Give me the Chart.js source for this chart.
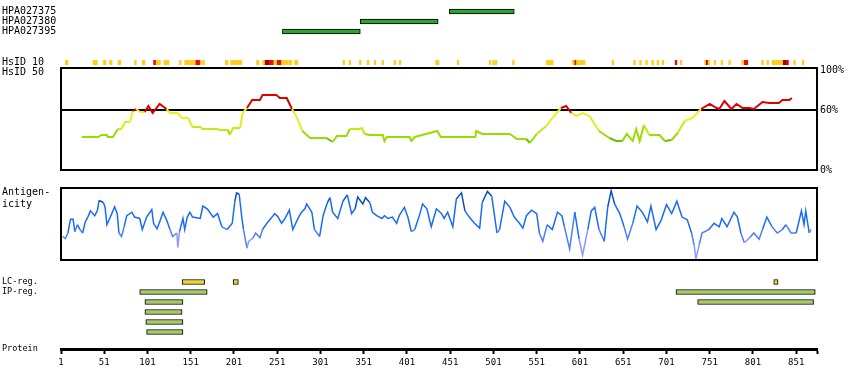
<!DOCTYPE html>
<html>
<head>
<meta charset="utf-8">
<script src="https://cdn.jsdelivr.net/npm/chart.js@4.4.1/dist/chart.umd.min.js"></script>
<style>
  html, body { margin: 0; padding: 0; background: #fff; }
  #wrap { position: relative; width: 850px; height: 390px; }
  #wrap canvas { position: absolute; left: 0; top: 0; }
</style>
</head>
<body>
<div id="wrap">
  <canvas id="hpa" width="850" height="390"></canvas>
  <canvas id="hsid10" width="850" height="390"></canvas>
  <canvas id="hsid50" width="850" height="390"></canvas>
  <canvas id="antigen" width="850" height="390"></canvas>
  <canvas id="regions" width="850" height="390"></canvas>
  <canvas id="axis" width="850" height="390"></canvas>
</div>
<script>
const proteinLength = 875;
const axisTicks = [1, 51, 101, 151, 201, 251, 301, 351, 401, 451, 501, 551, 601, 651, 701, 751, 801, 851];

// antibodies (residue ranges)
const hpaNames = ['HPA027375', 'HPA027380', 'HPA027395'];
const hpaRanges = [[450, 525], [347, 437], [257, 347]];

// HsID 10 blocks: [start, end, level]  level 1 = yellow, 2 = red, 3 = dark red
const hsid10Blocks = [
  [6, 9, 1], [38, 43, 1], [50, 53, 1], [57, 60, 1], [67, 70, 1], [86, 88, 1], [95, 98, 1],
  [108, 111, 2], [111, 116, 1], [120, 126, 1], [138, 140, 1], [144, 157, 1], [157, 162, 2],
  [162, 164, 1], [165, 167, 1], [191, 194, 1], [197, 210, 1], [227, 230, 1], [234, 237, 1],
  [237, 242, 3], [242, 247, 2], [247, 251, 1], [251, 256, 2], [256, 264, 1], [265, 268, 1],
  [271, 275, 1], [327, 329, 1], [334, 336, 1], [346, 348, 1], [355, 357, 1], [363, 365, 1],
  [372, 374, 1], [386, 388, 1], [392, 394, 1], [434, 438, 1], [459, 461, 1], [496, 498, 1],
  [500, 502, 1], [503, 505, 1], [523, 525, 1], [562, 570, 1], [592, 595, 1], [595, 597, 2],
  [597, 607, 1], [638, 640, 1], [663, 665, 1], [670, 672, 1], [677, 679, 1], [684, 686, 1],
  [690, 692, 1], [696, 698, 1], [711, 713, 2], [717, 719, 1], [745, 747, 1], [747, 749, 3],
  [749, 751, 1], [756, 758, 1], [764, 766, 1], [773, 775, 1], [788, 791, 1], [791, 795, 2],
  [811, 813, 1], [817, 819, 1], [823, 836, 1], [836, 840, 3], [840, 842, 2], [848, 850, 1],
  [858, 860, 1]
];

// HsID 50 (% identity)
const hsidPos = [25,44,48,54,55,61,67,71,75,81,84,88,92,98,102,107,115,123,127,136,141,148,153,162,165,181,185,194,196,200,208,211,216,222,231,234,250,254,262,268,274,280,289,308,315,320,331,335,346,349,352,358,373,375,378,404,406,410,436,440,480,481,488,520,528,539,543,551,562,569,579,585,591,597,604,612,623,635,643,650,655,662,666,670,675,681,693,699,707,714,722,731,741,751,759,762,768,776,782,789,797,802,812,820,831,835,843,846];
const hsidVal = [33,33,35,35,33,33,41,41,48,48,59,61,58,58,64,57,66,61,57,57,52,52,43,43,41,41,40,40,35,42,42,57,62,70,70,75,75,72,72,61,52,39,32,32,28,34,34,41,41,42,36,35,35,29,33,33,29,33,39,33,33,39,36,36,31,31,27,36,44,52,62,64,57,54,57,54,39,32,29,29,36,29,41,29,45,35,35,29,30,37,49,52,61,66,62,61,69,61,66,62,62,61,68,67,67,70,70,72];

// antigenicity
const antPos = [3,6,9,12,15,17,20,23,26,29,32,35,40,43,45,50,52,54,58,63,66,68,71,74,77,83,86,92,95,100,106,108,112,115,119,123,127,130,135,136,138,142,144,147,150,153,162,165,170,177,182,187,193,199,202,204,207,210,212,216,218,223,226,231,234,239,245,248,252,256,260,265,269,275,279,283,285,291,294,300,304,309,312,315,321,327,332,337,341,344,350,353,358,361,366,372,375,379,384,389,392,398,402,406,410,416,419,424,429,435,441,444,448,454,458,464,468,473,479,485,488,494,499,505,508,514,520,525,531,535,539,545,551,554,558,563,569,575,580,583,589,595,600,604,610,614,618,623,629,633,637,641,647,652,656,662,667,673,679,683,689,695,701,707,713,719,725,730,733,735,739,742,750,756,762,765,771,779,783,787,791,797,802,808,812,817,823,829,835,839,845,851,857,860,862,866,868];
const antVal = [32,29,37,57,57,39,49,42,37,53,60,69,62,69,84,81,74,49,60,75,65,37,32,46,62,67,60,58,42,60,71,51,43,53,67,56,42,32,37,16,39,58,42,60,67,60,58,76,72,60,65,46,42,51,83,95,93,60,42,15,25,30,37,30,42,51,60,65,60,51,58,70,42,58,67,72,79,67,42,32,62,81,88,67,58,83,92,65,72,89,79,88,81,67,62,58,62,58,60,51,62,74,60,39,42,65,79,72,46,72,65,58,67,46,86,95,69,60,51,44,81,97,90,37,42,83,74,60,51,44,62,70,65,37,25,49,42,67,62,46,14,67,28,5,42,69,74,42,25,74,98,79,65,46,28,51,76,67,53,76,42,56,78,65,83,60,56,37,19,0,21,37,42,51,46,58,46,67,60,37,23,30,37,28,42,60,46,37,42,49,37,37,69,49,69,37,42];

// low complexity / intrinsically disordered regions
const regionRows = ['LC-reg.', 'IP-reg.', '', '', '', ''];
const lcRegions = [[141, 167], [200, 206], [825, 830]];
const ipRegions = [
  [[92, 170], [712, 873]],
  [[98, 142], [737, 871]],
  [[98, 141]],
  [[99, 142]],
  [[100, 142]]
];

Chart.defaults.font.family = 'DejaVu Sans Mono';
Chart.defaults.font.size = 10;
Chart.defaults.color = '#000';
Chart.defaults.animation = false;

const levelColors = { 1: '#FFCC22', 2: '#E01010', 3: '#A80000' };

function idColor(v) {
  if (v >= 60) return '#DD0000';
  if (v >= 50) return '#EEEE22';
  if (v >= 44) return '#DDEE1A';
  if (v >= 38) return '#C4EA10';
  if (v >= 31) return '#99DD00';
  return '#6CBF00';
}

function antColor(v) {
  if (v >= 80) return '#0A4FC0';
  if (v >= 45) return '#1A6CF0';
  if (v >= 28) return '#4F7FF5';
  return '#8E96FF';
}

const framePlugin = {
  id: 'frame',
  afterDraw(chart) {
    const { ctx, chartArea: a } = chart;
    ctx.save();
    ctx.strokeStyle = '#000';
    ctx.lineWidth = 2;
    ctx.strokeRect(a.left, a.top, a.right - a.left, a.bottom - a.top);
    ctx.restore();
  }
};

const xHidden = () => ({ type: 'linear', min: 1, max: proteinLength, display: false });

// fixed width for side axes, and no extra room for labels at the ends
const fitSide = w => s => { s.width = w; s.paddingTop = 0; s.paddingBottom = 0; };

// one text label on the left, vertically at "value"
function leftLabel(value, text, min, max, size) {
  return {
    type: 'linear', position: 'left', min, max, offset: false,
    afterBuildTicks: s => { s.ticks = [{ value }]; },
    afterFit: fitSide(59),
    grid: { display: false },
    border: { display: false },
    ticks: { crossAlign: 'far', padding: 0, autoSkip: false, font: { size: size || 10 }, callback: () => text }
  };
}

function base(top, bottom, right) {
  return {
    responsive: false,
    maintainAspectRatio: false,
    animation: false,
    layout: { padding: { left: 2, right: right === undefined ? 33 : right, top: top, bottom: 390 - bottom } },
    plugins: { legend: { display: false }, tooltip: { enabled: false } }
  };
}

// antibodies
new Chart(document.getElementById('hpa'), {
  type: 'bar',
  data: {
    labels: hpaNames,
    datasets: [{
      data: hpaRanges,
      backgroundColor: '#33A033',
      borderColor: '#000',
      borderWidth: 1,
      borderSkipped: false,
      barThickness: 5
    }]
  },
  options: Object.assign(base(6.5, 36.5), {
    indexAxis: 'y',
    scales: {
      x: xHidden(),
      y: {
        type: 'category', position: 'left',
        afterFit: fitSide(59),
        grid: { display: false }, border: { display: false },
        ticks: { crossAlign: 'far', padding: 0, autoSkip: false }
      }
    }
  })
});

// HsID 10
new Chart(document.getElementById('hsid10'), {
  type: 'bar',
  data: {
    datasets: [{
      data: hsid10Blocks.map(b => ({ x: [b[0], b[1]], y: 0 })),
      backgroundColor: hsid10Blocks.map(b => levelColors[b[2]]),
      borderWidth: 0,
      barThickness: 5
    }]
  },
  options: Object.assign(base(60, 65), {
    indexAxis: 'y',
    scales: { x: xHidden(), y: leftLabel(0, 'HsID 10', -0.5, 0.5) }
  })
});

// HsID 50
new Chart(document.getElementById('hsid50'), {
  type: 'line',
  data: {
    datasets: [{
      data: hsidPos.map((x, i) => ({ x, y: hsidVal[i] })),
      borderWidth: 2,
      pointRadius: 0,
      segment: { borderColor: c => idColor((c.p0.parsed.y + c.p1.parsed.y) / 2) }
    }]
  },
  plugins: [framePlugin],
  options: Object.assign(base(68, 170, 0), {
    scales: {
      x: xHidden(),
      yl: leftLabel(98, 'HsID 50', 0, 102),
      y: {
        type: 'linear', position: 'right', min: 0, max: 102,
        afterBuildTicks: s => { s.ticks = [0, 60, 100].map(v => ({ value: v })); },
        afterFit: fitSide(33),
        grid: { color: c => c.tick && c.tick.value === 60 ? '#000' : 'rgba(0,0,0,0)', lineWidth: 2, drawTicks: false },
        border: { display: false },
        ticks: { padding: 3, autoSkip: false, callback: v => v + '%' }
      }
    }
  })
});

// antigenicity
new Chart(document.getElementById('antigen'), {
  type: 'line',
  data: {
    datasets: [{
      data: antPos.map((x, i) => ({ x, y: antVal[i] })),
      borderWidth: 1.5,
      pointRadius: 0,
      segment: { borderColor: c => antColor((c.p0.parsed.y + c.p1.parsed.y) / 2) }
    }]
  },
  plugins: [framePlugin],
  options: Object.assign(base(188, 260), {
    scales: {
      x: xHidden(),
      y: leftLabel(87, ['Antigen-', 'icity'], -2, 102)
    }
  })
});

// regions
const regionData = [lcRegions].concat(ipRegions);
const regionDatasets = [0, 1, 2].map(k => ({
  data: regionData.map((row, r) => row[k] ? { x: row[k], y: r } : null).filter(d => d),
  backgroundColor: c => c.raw && c.raw.y === 0 ? '#EED430' : '#A6C866',
  borderColor: '#000',
  borderWidth: 1,
  borderSkipped: false,
  barThickness: 5,
  grouped: false
}));

new Chart(document.getElementById('regions'), {
  type: 'bar',
  data: { datasets: regionDatasets },
  options: Object.assign(base(277, 337), {
    indexAxis: 'y',
    scales: {
      x: xHidden(),
      y: {
        type: 'linear', position: 'left', min: -0.5, max: 5.5, reverse: true, offset: false,
        afterBuildTicks: s => { s.ticks = regionRows.map((_, i) => ({ value: i })); },
        afterFit: fitSide(59),
        grid: { display: false }, border: { display: false },
        ticks: { crossAlign: 'far', padding: 0, autoSkip: false, font: { size: 8.5 }, callback: (v, i) => regionRows[i] }
      }
    }
  })
});

// protein axis
new Chart(document.getElementById('axis'), {
  type: 'line',
  data: { datasets: [{ data: [] }] },
  options: Object.assign(base(343, 390), {
    scales: {
      x: {
        type: 'linear', position: 'bottom', min: 1, max: proteinLength,
        afterBuildTicks: s => { s.ticks = axisTicks.concat([proteinLength]).map(v => ({ value: v })); },
        afterFit: s => { s.height = 41; s.paddingLeft = 0; s.paddingRight = 0; },
        grid: { drawOnChartArea: false, drawTicks: true, tickLength: 5, tickWidth: 2, tickColor: '#000' },
        border: { display: true, width: 3, color: '#000' },
        ticks: { autoSkip: false, maxRotation: 0, padding: 3, font: { size: 9 }, callback: v => axisTicks.includes(v) ? String(v) : '' }
      },
      y: leftLabel(0, 'Protein', 0, 1, 8.5)
    }
  })
});
</script>
</body>
</html>
